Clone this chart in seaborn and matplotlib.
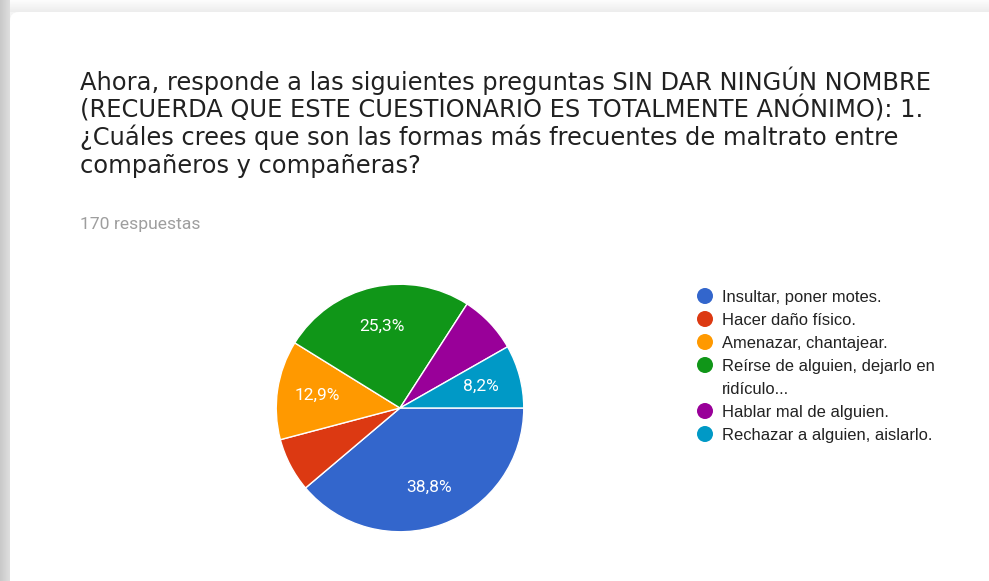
import numpy as np
import matplotlib
matplotlib.use("Agg")
import matplotlib.pyplot as plt
from matplotlib.patches import FancyBboxPatch, Circle
import seaborn as sns

# Survey answers (170 responses)
categories = [
    ["Insultar, poner motes."],
    ["Hacer daño físico."],
    ["Amenazar, chantajear."],
    ["Reírse de alguien, dejarlo en", "ridículo..."],
    ["Hablar mal de alguien."],
    ["Rechazar a alguien, aislarlo."],
]
counts = [66, 12, 22, 43, 13, 14]
palette = ["#3366cc", "#dc3912", "#ff9900", "#109618", "#990099", "#0099c6"]

title_lines = [
    "Ahora, responde a las siguientes preguntas SIN DAR NINGÚN NOMBRE",
    "(RECUERDA QUE ESTE CUESTIONARIO ES TOTALMENTE ANÓNIMO): 1.",
    "¿Cuáles crees que son las formas más frecuentes de maltrato entre",
    "compañeros y compañeras?",
]
subtitle = "170 respuestas"

sns.set_theme(style="white")
colors = sns.color_palette(palette)

W, H = 989, 581
fig = plt.figure(figsize=(W / 100, H / 100), dpi=100)
fig.patch.set_facecolor("#f4f4f4")

# Overlay in pixel coordinates for the card, titles and legend
bg = fig.add_axes([0, 0, 1, 1])
bg.axis("off")

# card shadow: left strip and top strip
left = np.linspace(0.79, 0.87, 10)[None, :] * np.ones((H, 1))
bg.imshow(np.dstack([left] * 3), extent=(0, 10, H, 0), aspect="auto", zorder=0)
top = np.linspace(0.99, 0.93, 12)[:, None] * np.ones((1, W))
bg.imshow(np.dstack([top] * 3), extent=(10, W, 12, 0), aspect="auto", zorder=0)
bg.set_xlim(0, W)
bg.set_ylim(H, 0)
card = FancyBboxPatch((10, 12), W + 40, H + 40,
                      boxstyle="round,pad=0,rounding_size=9",
                      facecolor="white", edgecolor="none", zorder=1)
bg.add_patch(card)

# Question title
for i, line in enumerate(title_lines):
    bg.text(80, 90 + i * 27.7, line, fontsize=17.4, family="DejaVu Sans",
            color="#212121", va="baseline", ha="left", zorder=2)
bg.text(80, 224, subtitle, fontsize=12.6, family="Roboto",
        color="#9e9e9e", va="center", ha="left", zorder=2)

# Legend
y = 296
for lines, col in zip(categories, colors):
    bg.add_patch(Circle((705, y), 8, facecolor=col, edgecolor="none", zorder=2))
    for line in lines:
        bg.text(722, y, line, fontsize=11.9, family="Liberation Sans",
                color="#222222", va="center_baseline", ha="left", zorder=2)
        y += 23

# Pie chart
cx, cy, r = 400, 408, 125
ax = fig.add_axes([(cx - r) / W, (H - cy - r) / H, 2 * r / W, 2 * r / H])


def fmt(pct):
    return f"{pct:.1f}%".replace(".", ",") if pct >= 8 else ""


wedges, texts, autotexts = ax.pie(
    counts, colors=colors, startangle=0, counterclock=False,
    autopct=fmt, pctdistance=0.68,
    wedgeprops=dict(edgecolor="white", linewidth=1.0),
    textprops=dict(color="white", fontsize=12.5, family="Roboto"),
)
ax.set_xlim(-1.01, 1.01)
ax.set_ylim(-1.01, 1.01)
ax.set_aspect("equal")
ax.axis("off")

fig.savefig("out.png", dpi=100)
